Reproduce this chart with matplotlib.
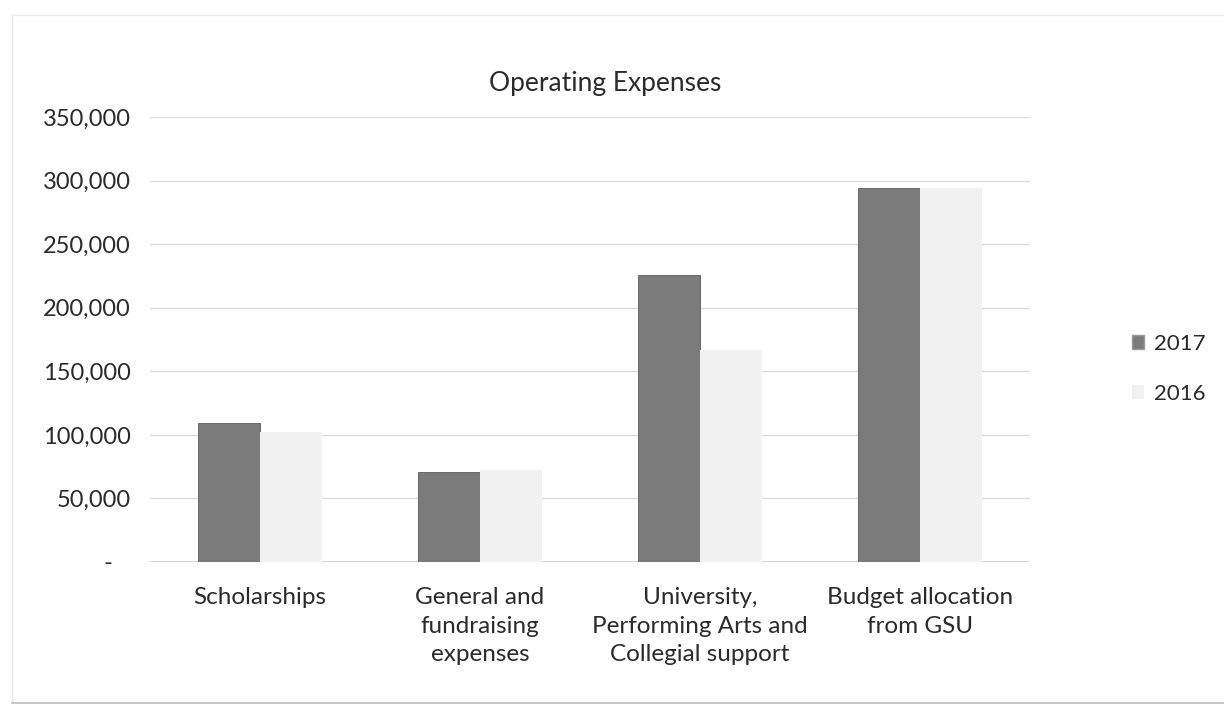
import matplotlib
matplotlib.use("Agg")
import matplotlib.pyplot as plt
import numpy as np
from matplotlib.patches import Rectangle
from matplotlib.lines import Line2D

categories = ["Scholarships", "General and\nfundraising\nexpenses",
              "University,\nPerforming Arts and\nCollegial support",
              "Budget allocation\nfrom GSU"]
series_names = ["2017", "2016"]
values_2017 = [109000, 71000, 226000, 294000]
values_2016 = [102000, 72000, 167000, 294000]
yticks = [0, 50000, 100000, 150000, 200000, 250000, 300000, 350000]
ytick_labels = ["-   ", "50,000", "100,000", "150,000", "200,000", "250,000", "300,000", "350,000"]

plt.rcParams['font.family'] = ['Lato', 'DejaVu Sans']

fig = plt.figure(figsize=(12.24, 7.06), dpi=100)
ax = fig.add_axes([150/1224, 1-562/706, 880/1224, (562-117)/706])

x = np.arange(len(categories))
w = 0.28
c17 = "#7b7b7b"
c16 = "#f1f1f1"
ax.bar(x - w/2, values_2017, w, color=c17, edgecolor="#5a5a5a", linewidth=0.6, zorder=3, label="2017")
ax.bar(x + w/2, values_2016, w, color=c16, edgecolor="none", zorder=3, label="2016")

ax.set_xlim(-0.5, len(categories) - 0.5)
ax.set_ylim(0, 350000)
ax.set_yticks(yticks)
ax.set_yticklabels(ytick_labels, fontsize=17, color="#2a2a2a")
ax.set_xticks(x)
ax.set_xticklabels(categories, fontsize=17.5, color="#2a2a2a", linespacing=1.45)
ax.tick_params(axis='y', length=0, pad=14)
ax.tick_params(axis='x', length=0, pad=18)
ax.grid(axis='y', color="#dcdcdc", linewidth=1.0, zorder=0)
for s in ax.spines.values():
    s.set_visible(False)
ax.axhline(0, color="#cfcfcf", linewidth=1.2, zorder=2)

fig.text(605/1224, 1-84/706, "Operating Expenses", fontsize=19, color="#2a2a2a",
         ha="center", va="center")

handles = [Rectangle((0, 0), 1, 1, facecolor=c17, edgecolor="#9a9a9a"),
           Rectangle((0, 0), 1, 1, facecolor=c16, edgecolor="none")]
fig.legend(handles, series_names, loc="center left", bbox_to_anchor=(1112/1224, 1-369/706),
           frameon=False, fontsize=16, handlelength=0.55, handleheight=0.55,
           handletextpad=0.45, labelspacing=1.35, labelcolor="#2a2a2a")

# faint chart border from the scan
fig.add_artist(Line2D([12/1224, 12/1224], [1-703/706, 1-15/706], transform=fig.transFigure,
                      color="#e6e6e6", linewidth=1))
fig.add_artist(Line2D([12/1224, 1.0], [1-703/706, 1-703/706], transform=fig.transFigure,
                      color="#bdbdbd", linewidth=1.2))
fig.add_artist(Line2D([12/1224, 1.0], [1-15/706, 1-15/706], transform=fig.transFigure,
                      color="#ededed", linewidth=1))

fig.savefig("out.png", dpi=100, facecolor="white")
